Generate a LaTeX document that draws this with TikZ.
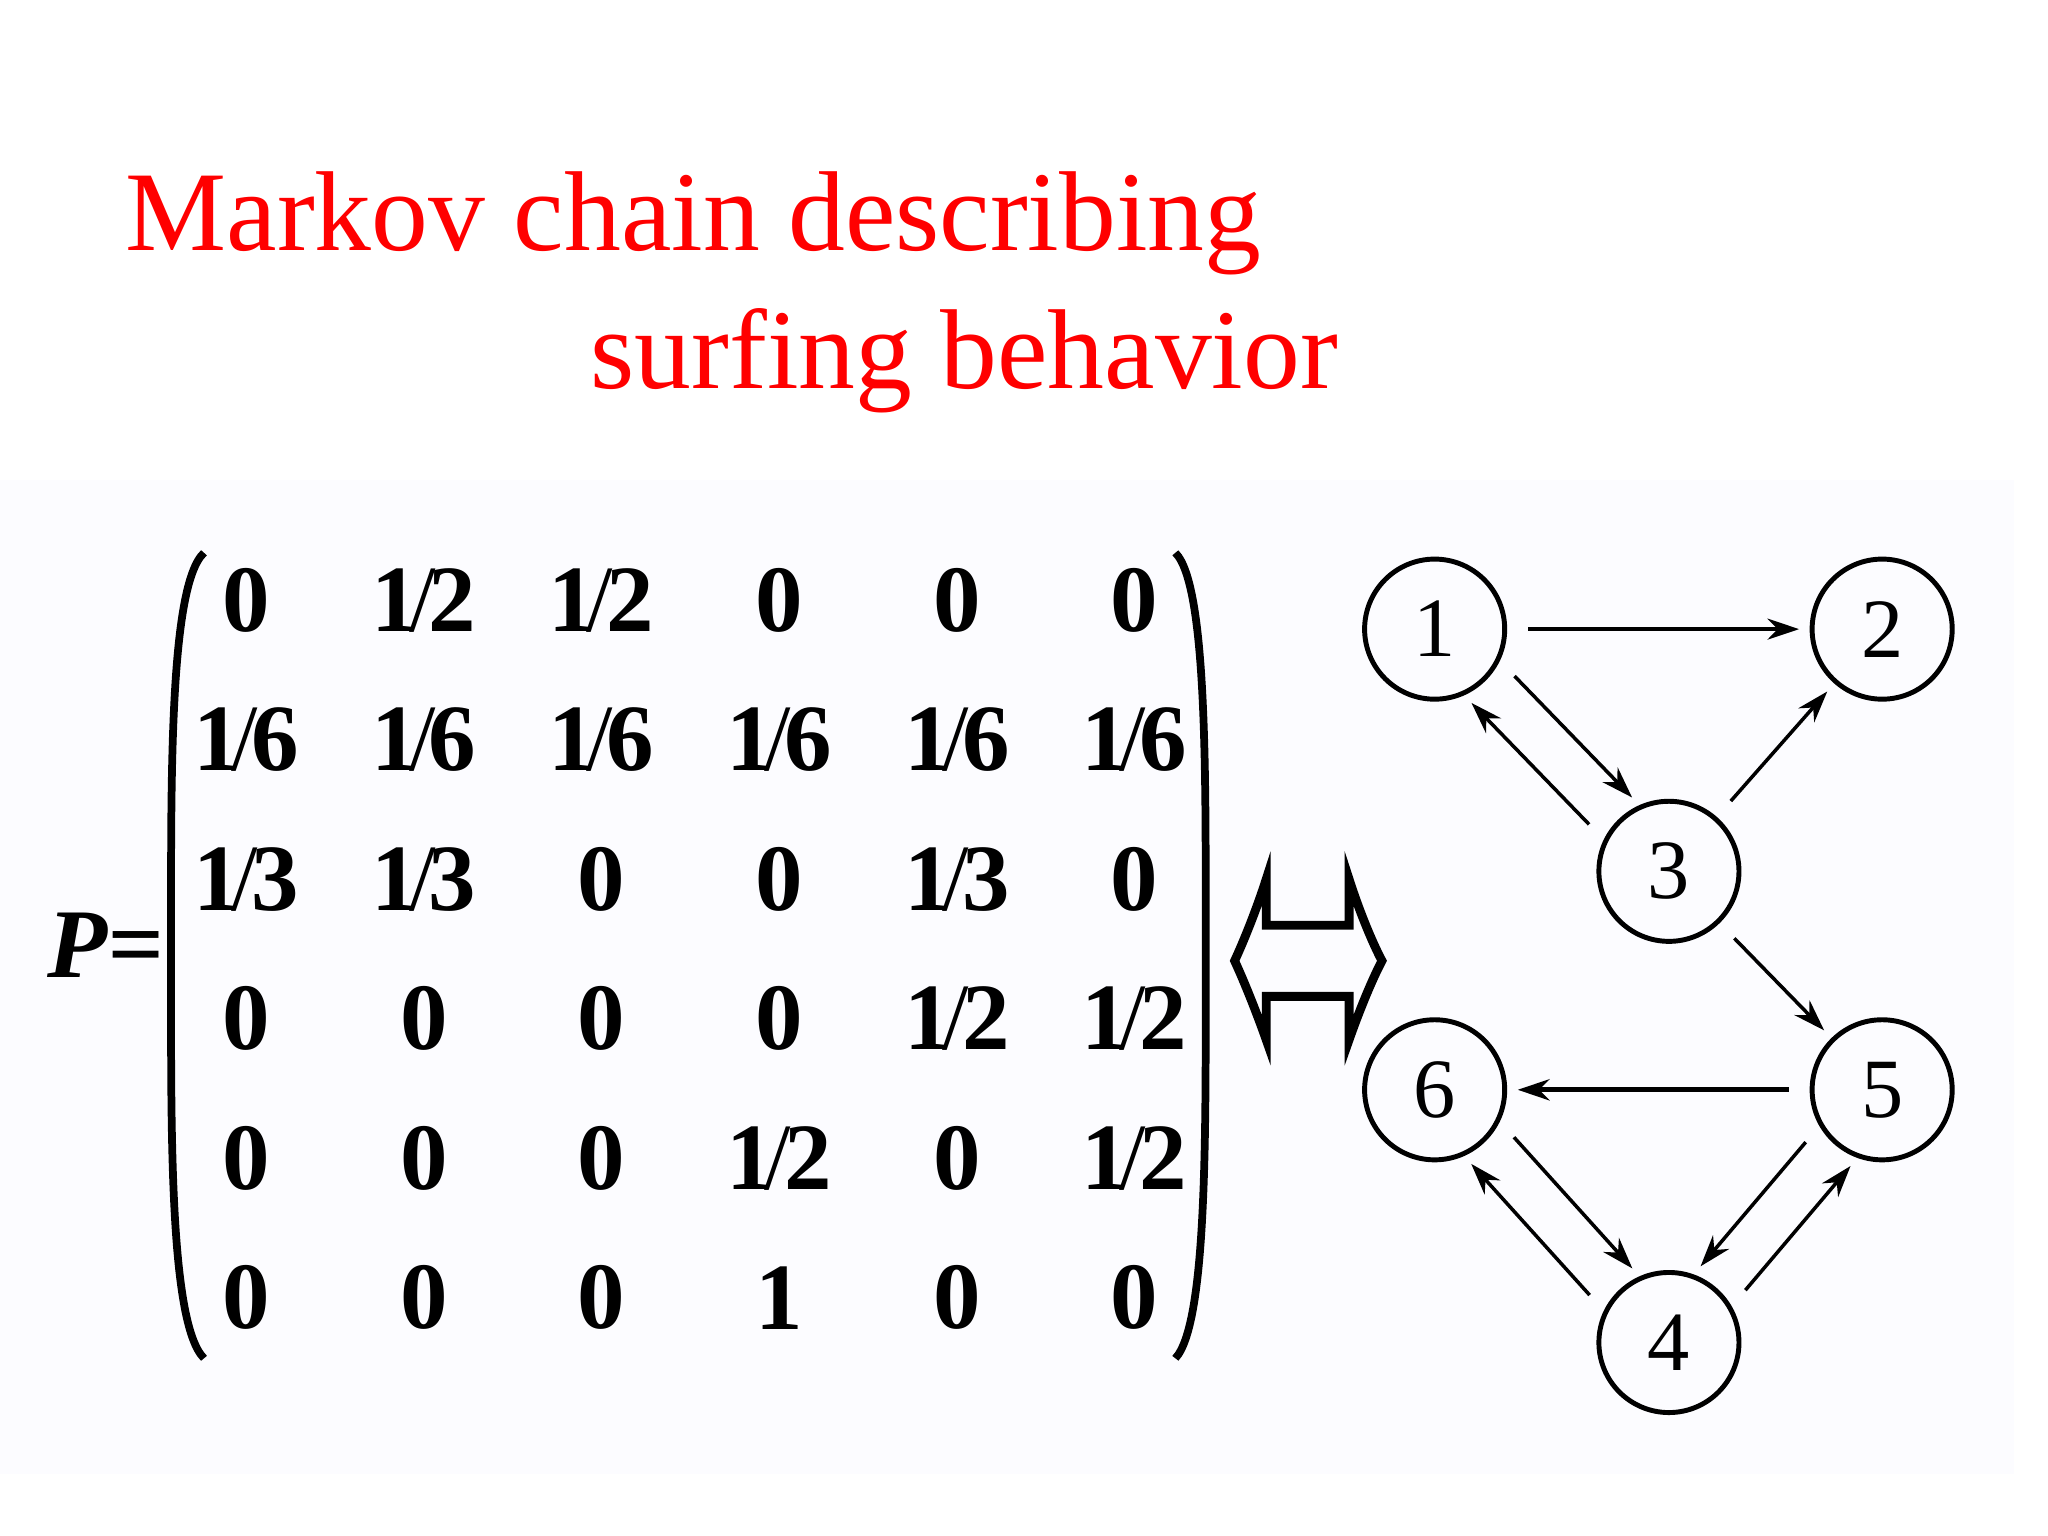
\documentclass[tikz,border=0pt]{standalone}
\usepackage{fontspec}
\setmainfont{Liberation Serif}
\usetikzlibrary{arrows.meta}
\newcommand{\fr}[2]{#1\kern-0.1em{\fontseries{m}\selectfont/}\kern-0.07em#2}
\begin{document}
\begin{tikzpicture}[x=0.01316cm,y=-0.01316cm,
  st/.style={circle,draw,line width=1.4pt,minimum size=1.4cm,inner sep=0pt,font=\fontsize{24}{24}\selectfont},
  ed/.style={-{Stealth[length=9pt,width=6pt]},line width=1pt,shorten <=6pt,shorten >=3pt},
  me/.style={font=\bfseries\fontsize{27}{27}\selectfont}]
\useasboundingbox (0,0) rectangle (1556,1167);
\fill[white] (0,0) rectangle (1556,1167);
\fill[black!3!blue!1!white] (0,365) rectangle (1530,1120);
\fill[white!99!blue] (25,400) rectangle (1530,1085);
\node[red,anchor=base west,inner sep=0pt,font=\fontsize{32.3}{33}\selectfont] (t1) at (95,190) {Markov chain describing};
\node[red,anchor=base west,inner sep=0pt,font=\fontsize{32.3}{33}\selectfont] (t2) at (448,295) {surfing behavior};
\node[font=\bfseries\itshape\fontsize{28}{28}\selectfont,inner sep=0pt] (P) at (80,718) {P=};
\draw[line width=2.2pt] (155,420) .. controls (128,445) and (130,600) .. (130,725) .. controls (130,850) and (128,1005) .. (155,1032);
\draw[line width=2.2pt] (893,420) .. controls (918,445) and (916,600) .. (916,725) .. controls (916,850) and (918,1005) .. (893,1032);
\foreach \r [count=\i] in {{0,\fr12,\fr12,0,0,0},{\fr16,\fr16,\fr16,\fr16,\fr16,\fr16},{\fr13,\fr13,0,0,\fr13,0},{0,0,0,0,\fr12,\fr12},{0,0,0,\fr12,0,\fr12},{0,0,0,1,0,0}}{
  \foreach \v [count=\j] in \r {
    \pgfmathsetmacro\xx{52+135*\j}
    \pgfmathsetmacro\yy{350+106*\i}
    \node[me] (m\i\j) at (\xx,\yy) {\v};
  }
}
\draw[line width=2.5pt] (962,703)--(962,668) .. controls (955,690) and (945,715) .. (938,730) .. controls (945,745) and (955,770) .. (962,790)--(962,757)--(1025,757)--(1025,790) .. controls (1032,770) and (1042,745) .. (1050,730) .. controls (1042,715) and (1032,690) .. (1025,668)--(1025,703)--cycle;
\node[st] (n1) at (1090,478) {1};
\node[st] (n2) at (1430,478) {2};
\node[st] (n3) at (1268,662) {3};
\node[st] (n5) at (1430,828) {5};
\node[st] (n6) at (1090,828) {6};
\node[st] (n4) at (1268,1020) {4};
\draw[ed] (n1) -- (n2);
\draw[ed] (n1.-26) -- (n3.114);
\draw[ed] (n3.154) -- (n1.-66);
\draw[ed] (n3) -- (n2);
\draw[ed] (n3) -- (n5);
\draw[ed,line width=1.5pt] (n5) -- (n6);
\draw[ed] (n6.-26) -- (n4.114);
\draw[ed] (n4.154) -- (n6.-66);
\draw[ed] (n5.-150) -- (n4.70);
\draw[ed] (n4.30) -- (n5.-110);
\end{tikzpicture}
\end{document}
